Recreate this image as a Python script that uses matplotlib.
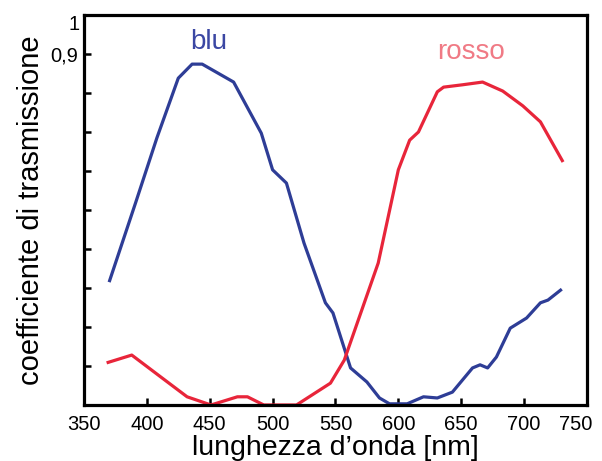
import numpy as np
import matplotlib
matplotlib.use("Agg")
import matplotlib.pyplot as plt
import matplotlib.transforms as mtransforms

# Transmission curves
blu_nm = [370, 391, 408, 425, 436, 444, 469, 491, 500, 511, 525, 542, 548,
          562, 575, 585, 593, 607, 620, 631, 643, 659, 665, 671, 678, 689,
          702, 713, 719, 730]
blu_t = [0.315, 0.518, 0.685, 0.838, 0.874, 0.874, 0.828, 0.697, 0.603,
         0.569, 0.415, 0.262, 0.236, 0.095, 0.059, 0.018, 0.003, 0.003,
         0.021, 0.018, 0.033, 0.095, 0.103, 0.095, 0.123, 0.197, 0.223,
         0.262, 0.269, 0.297]

rosso_nm = [368, 388, 411, 432, 451, 472, 480, 493, 519, 546, 557, 584,
            600, 609, 616, 631, 636, 651, 667, 683, 699, 713, 731]
rosso_t = [0.108, 0.128, 0.072, 0.021, 0.0, 0.021, 0.021, 0.0, 0.0, 0.056,
           0.115, 0.364, 0.603, 0.679, 0.700, 0.803, 0.815, 0.821, 0.828,
           0.805, 0.767, 0.726, 0.623]

x_ticks = [350, 400, 450, 500, 550, 600, 650, 700, 750]
y_ticks = [0.1, 0.2, 0.3, 0.4, 0.5, 0.6, 0.7, 0.8, 0.9]
y_tick_labels = ["", "", "", "", "", "", "", "", "0,9"]

plt.rcParams["font.family"] = ["Liberation Sans", "DejaVu Sans"]

fig = plt.figure(figsize=(6.02, 4.61), dpi=100)
ax = fig.add_axes([0.1395, 0.1215, 0.8355, 0.846])

ax.plot(blu_nm, blu_t, color="#2e3d96", lw=2.3, solid_capstyle="butt")
ax.plot(rosso_nm, rosso_t, color="#e8253a", lw=2.3, solid_capstyle="butt")

ax.text(449, 0.93, "blu", color="#3b47a3", fontsize=20, ha="center", va="center")
ax.text(658, 0.905, "rosso", color="#f07a85", fontsize=20, ha="center", va="center")

ax.set_xlim(350, 750)
ax.set_ylim(0, 1)
ax.set_xticks(x_ticks)
ax.set_yticks(y_ticks)
ax.set_yticklabels(y_tick_labels)
ax.text(-0.008, 0.975, "1", transform=ax.transAxes, fontsize=14.5,
        ha="right", va="center")

ax.tick_params(direction="in", length=5, width=1.8, labelsize=14.5)
ax.tick_params(axis="x", pad=7)
ax.tick_params(axis="y", pad=4)
for s in ax.spines.values():
    s.set_linewidth(2.3)

# the last x label sits a bit left of its tick so it stays inside the figure
last = ax.get_xticklabels()[-1]
last.set_transform(last.get_transform()
                   + mtransforms.ScaledTranslation(-0.11, 0, fig.dpi_scale_trans))

ax.set_xlabel("lunghezza d\u2019onda [nm]", fontsize=20.5, labelpad=1)
ax.set_ylabel("coefficiente di trasmissione", fontsize=21, labelpad=4)

fig.savefig("out.png", dpi=100)
